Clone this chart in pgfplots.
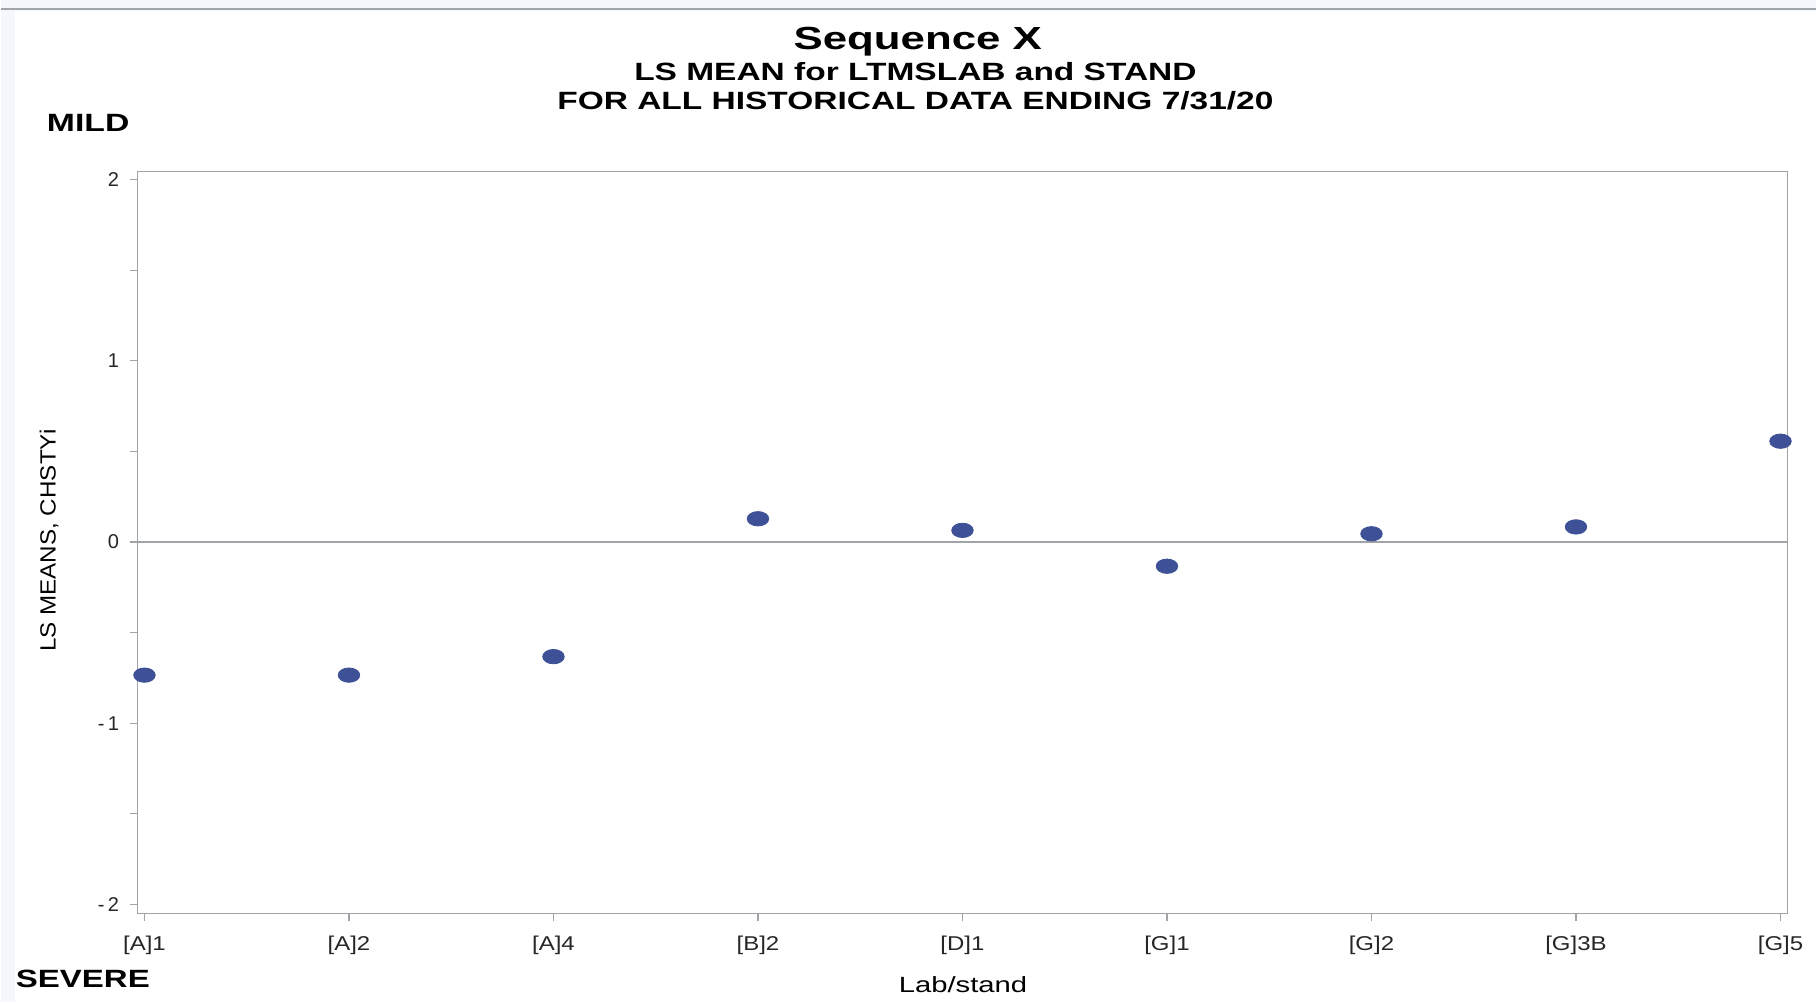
\documentclass[border=0pt]{standalone}
\usepackage{pgfplots}
\pgfplotsset{compat=1.18}
\usepackage{fontspec}
\setmainfont{Liberation Sans}
\definecolor{mk}{HTML}{3E5196}
\definecolor{ax}{HTML}{A0A4A8}
\definecolor{bgl}{HTML}{F4F7FB}
\newcommand{\wide}[2]{\scalebox{#1}[1]{#2}}
\begin{document}
\begin{tikzpicture}[x=1pt,y=1pt]
\fill[white] (0,0) rectangle (908.5,501.5);
\fill[bgl] (0,0) rectangle (7,501.5);
\fill[bgl] (0,496) rectangle (908.5,501.5);
\draw[ax,line width=0.6pt] (0,497) -- (908.5,497);
\begin{axis}[
  at={(68.5pt,44.5pt)}, anchor=south west,
  scale only axis, width=825.5pt, height=371.25pt,
  xmin=-0.034, xmax=8.034, ymin=-2.05, ymax=2.045,
  xtick={0,...,8},
  xticklabels={{\wide{1.2}{[A]1}},{\wide{1.2}{[A]2}},{\wide{1.2}{[A]4}},{\wide{1.2}{[B]2}},{\wide{1.2}{[D]1}},{\wide{1.2}{[G]1}},{\wide{1.2}{[G]2}},{\wide{1.2}{[G]3B}},{\wide{1.2}{[G]5}}},
  ytick={-2,-1,0,1,2},
  yticklabels={-\,2,-\,1,0,1,2},
  minor y tick num=1,
  tick align=outside,
  axis line style={ax, line width=0.7pt},
  tick style={ax, line width=0.6pt},
  major tick length=4pt, minor tick length=4pt,
  xtick pos=bottom, ytick pos=left,
  ticklabel style={font=\fontsize{10}{12}\selectfont, text=black!85},
  xticklabel style={yshift=-4pt},
  yticklabel style={xshift=-1.7pt},
  clip=false,
]
\addplot[ax, line width=0.7pt, forget plot] coordinates {(-0.034,0) (8.034,0)};
\addplot[only marks, mark=*, mark size=3.6pt, mark options={xscale=1.5, fill=mk, draw=mk}]
coordinates {
(0,-0.735) (1,-0.735) (2,-0.633) (3,0.128) (4,0.064) (5,-0.134) (6,0.045) (7,0.083) (8,0.556)
};
\end{axis}
\node[font=\bfseries\fontsize{16}{18}\selectfont] at (458.9,480.8) {\wide{1.37}{Sequence X}};
\node[font=\bfseries\fontsize{12.5}{14}\selectfont] at (457.7,465.6) {\wide{1.34}{LS MEAN for LTMSLAB and STAND}};
\node[font=\bfseries\fontsize{12.5}{14}\selectfont] at (457.7,451.1) {\wide{1.34}{FOR ALL HISTORICAL DATA ENDING 7/31/20}};
\node[font=\bfseries\fontsize{12.5}{14}\selectfont, anchor=west, inner sep=0] at (23,440) {\wide{1.35}{MILD}};
\node[font=\bfseries\fontsize{12.5}{14}\selectfont, anchor=west, inner sep=0] at (7.5,11.5) {\wide{1.32}{SEVERE}};
\node[font=\fontsize{11}{13}\selectfont] at (481.5,9) {\wide{1.33}{Lab/stand}};
\node[font=\fontsize{11}{13}\selectfont, rotate=90] at (24.3,231) {\wide{1.1}{LS MEANS, CHSTYi}};
\end{tikzpicture}
\end{document}
